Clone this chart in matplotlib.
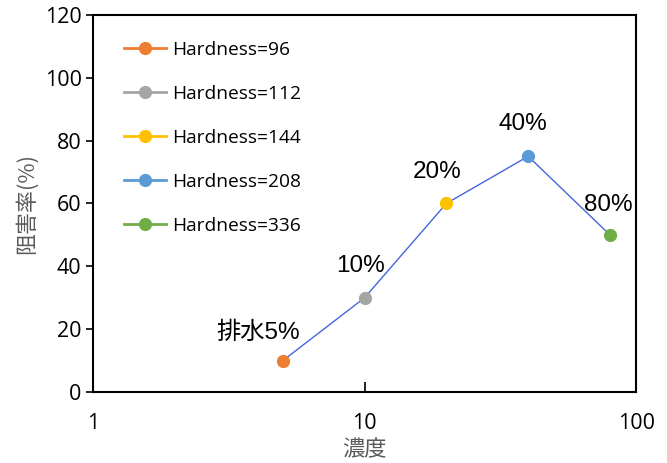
import numpy as np
import matplotlib.pyplot as plt
from matplotlib.ticker import FixedLocator, NullLocator

# data
conc = [5, 10, 20, 40, 80]
rate = [10, 30, 60, 75, 50]
hardness = [96, 112, 144, 208, 336]
point_labels = ["排水5%", "10%", "20%", "40%", "80%"]
colors = ["#ED7D31", "#A5A5A5", "#FFC000", "#5B9BD5", "#70AD47"]
label_offsets = [(-18, 20), (-3, 23), (-6.5, 23), (-4, 23), (-1, 21.5)]

plt.rcParams['font.family'] = ['Open Sans', 'Noto Sans CJK JP', 'DejaVu Sans']

fig = plt.figure(figsize=(6.67, 4.63), dpi=100)
ax = fig.add_axes([0.139, 0.153, 0.815, 0.815])

# connecting line
ax.plot(conc, rate, color="#4466DD", lw=1.0, zorder=2)
# markers, one per hardness series
for x, y, h, c in zip(conc, rate, hardness, colors):
    ax.plot([x], [y], marker='o', ms=8.5, color=c, lw=2, zorder=3,
            label="Hardness={}".format(h))

for x, y, t, off in zip(conc, rate, point_labels, label_offsets):
    ax.annotate(t, (x, y), xytext=off, textcoords='offset points',
                ha='center', va='center', fontsize=17.5,
                family=['Liberation Sans', 'Noto Sans CJK JP'])

ax.set_xscale('log')
ax.set_xlim(1, 100)
ax.set_ylim(0, 120)
ax.xaxis.set_major_locator(FixedLocator([1, 10, 100]))
ax.xaxis.set_minor_locator(NullLocator())
ax.set_xticklabels(["1", "10", "100"])
ax.set_yticks(np.arange(0, 121, 20))

ax.tick_params(axis='x', direction='in', length=7, width=1.2, labelsize=15.5, pad=15)
ax.tick_params(axis='y', direction='out', length=5, width=1.2, labelsize=15.5, pad=3)
for s in ax.spines.values():
    s.set_linewidth(1.5)
    s.set_color('black')

ax.set_xlabel("濃度", fontsize=16, color="#595959", labelpad=3,
              family=['Noto Sans CJK JP'])
ax.set_ylabel("阻害率(%)", fontsize=15.8, color="#595959", labelpad=5,
              family=['Noto Sans CJK JP', 'DejaVu Sans'])

ax.legend(loc='upper left', bbox_to_anchor=(0.043, 0.952), frameon=False,
          fontsize=13.8, handlelength=2.2, labelspacing=1.36, handletextpad=0.3,
          borderaxespad=0)

fig.savefig("out.png", dpi=100)
